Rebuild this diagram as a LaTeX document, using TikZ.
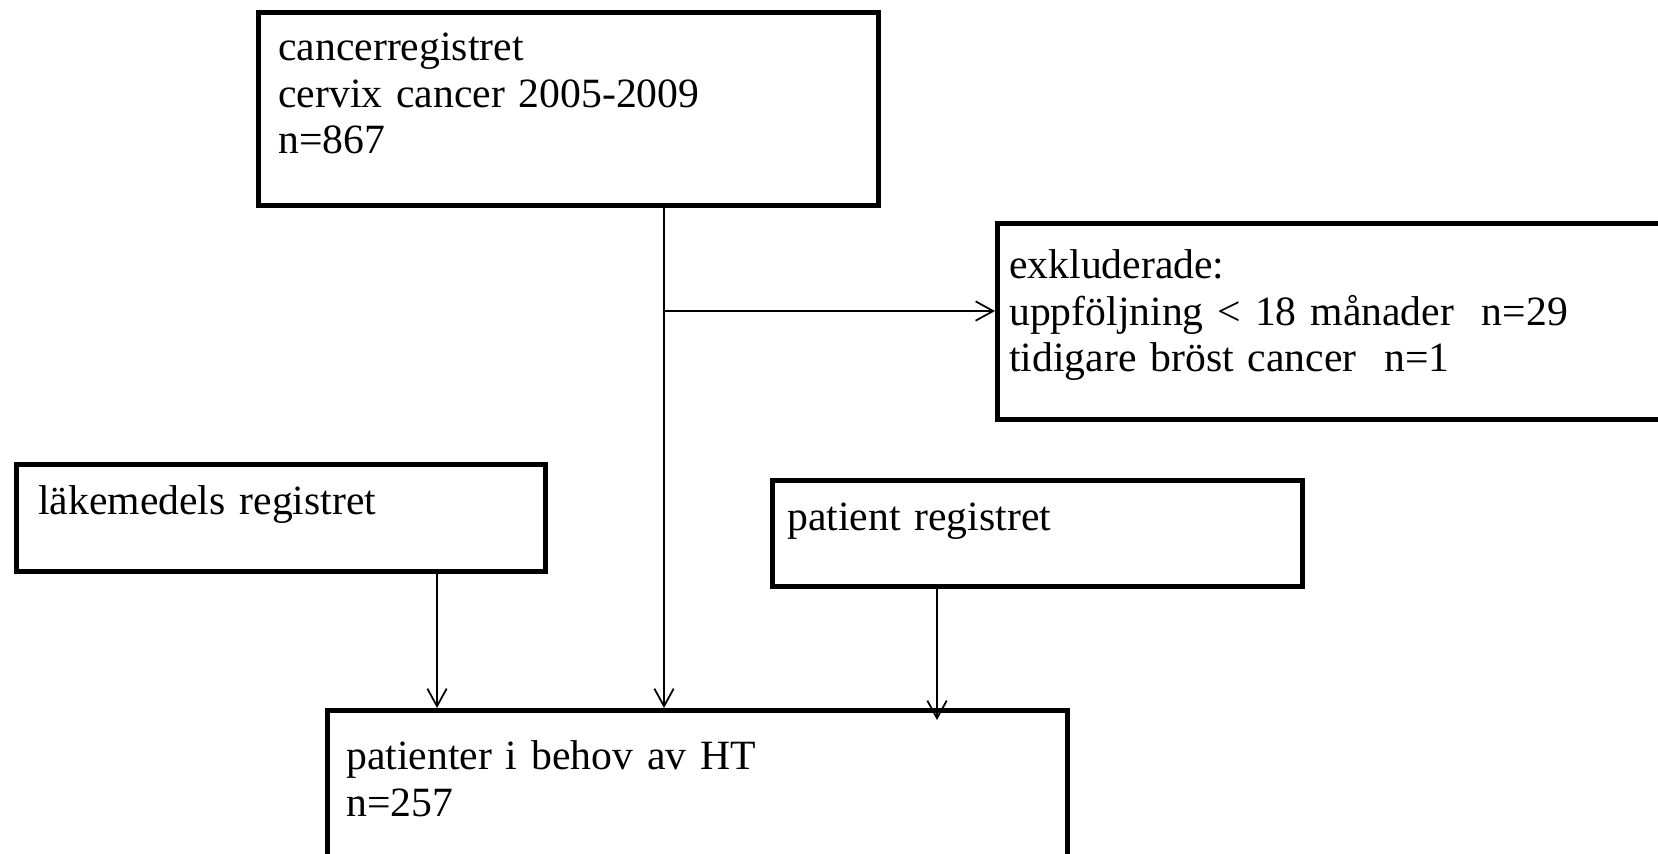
\documentclass[tikz,border=0pt]{standalone}
\usepackage{fontspec}
\setmainfont{Liberation Serif}
\usepackage{tikz}
\usetikzlibrary{arrows.meta}

\begin{document}
\begin{tikzpicture}[x=0.01cm, y=-0.01cm,
          box/.style={draw, line width=1.3pt, anchor=north west, align=left,
            inner ysep=0pt, font=\fontsize{11.85pt}{13.3pt}\selectfont},
          arr/.style={line width=0.5pt, -{Straight Barb[length=5pt,width=5.5pt]}}]
          \useasboundingbox (0,0) rectangle (1658,853);
          \node[box, inner xsep=0.2cm, text width=5.8cm, text height=0.48cm, text depth=1.45cm]
            (can) at (256,10) {cancerregistret\\cervix cancer 2005-2009\\n=867};
          \node[box, inner xsep=0.12cm, text width=6.5cm, text height=0.55cm, text depth=1.41cm]
            (exc) at (995,221) {exkluderade:\\uppföljning < 18 månader~~n=29\\tidigare bröst cancer~~n=1};
          \node[box, inner xsep=0.22cm, text width=4.85cm, text height=0.5cm, text depth=0.57cm]
            (lak) at (14,462) {läkemedels registret};
          \node[box, inner xsep=0.15cm, text width=5.0cm, text height=0.5cm, text depth=0.56cm]
            (pat) at (770,478) {patient registret};
          \node[box, inner xsep=0.19cm, text width=7.02cm, text height=0.59cm, text depth=1.13cm]
            (ht) at (325,708) {patienter i behov av HT\\n=257};
          \coordinate (mid) at (664,0);
          \coordinate (fork) at (664,311);
          \coordinate (left) at (437,0);
          \coordinate (right) at (937,0);
          \coordinate (pend) at (937,720);
          \draw[arr] (can.south -| mid) -- (ht.north -| mid);
          \draw[arr] (fork) -- (fork -| exc.west);
          \draw[arr] (lak.south -| left) -- (ht.north -| left);
          \draw[arr] (pat.south -| right) -- (pend);
        \end{tikzpicture}
\end{document}
